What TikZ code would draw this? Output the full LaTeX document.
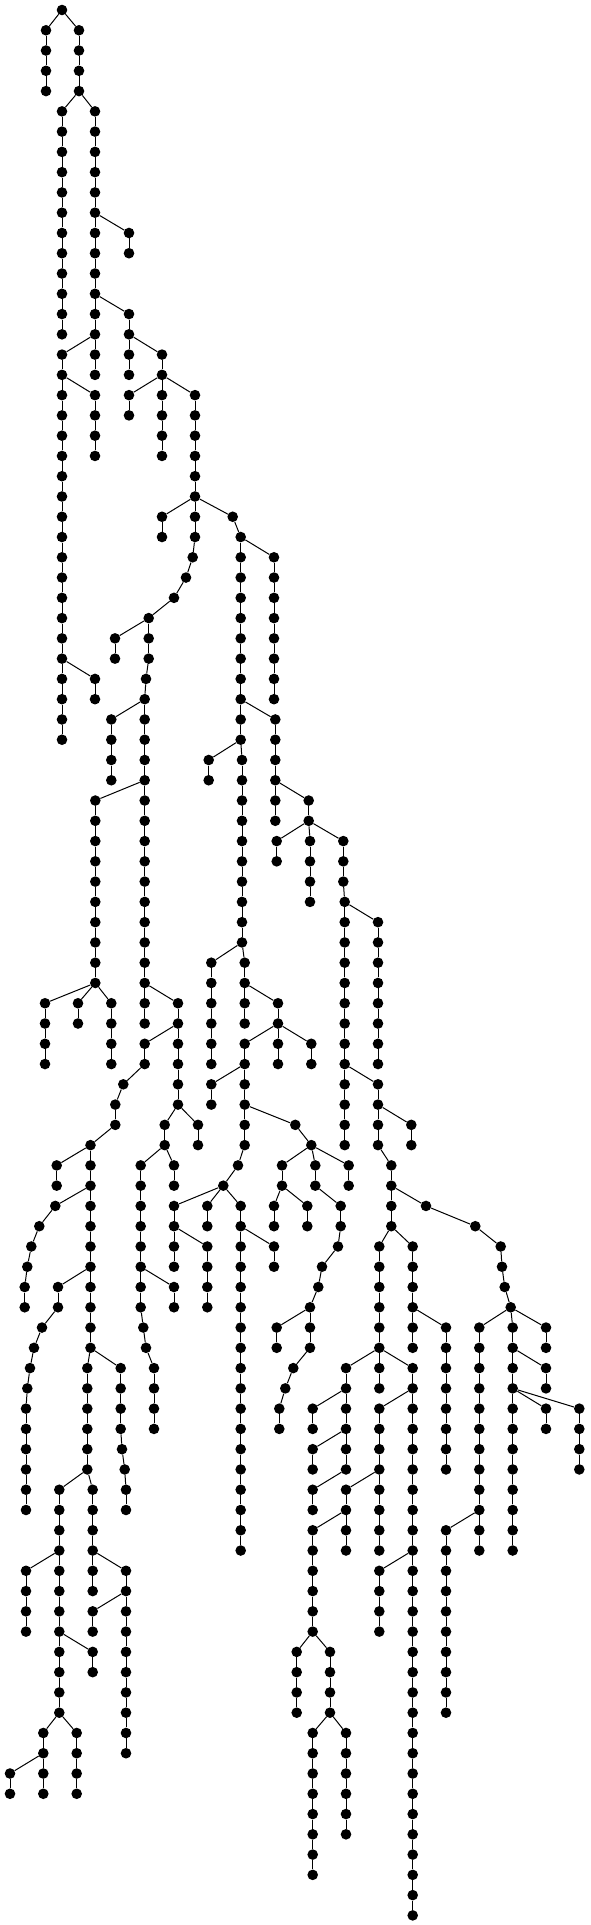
\documentclass[tikz,border=0pt]{standalone}
\usepackage{tikz}
\tikzset{
  dot/.style={circle,fill=black,draw=none,inner sep=0pt,minimum size=10.6pt},
  edge/.style={draw=black,line width=1pt}
}
\newcommand\vch[4]{%
  \foreach \l in {#3,...,#4}{\node[dot] (#1-\l) at (#2,\l) {};}%
  \pgfmathtruncatemacro\vchs{#3+1}%
  \ifnum\vchs>#4\relax\else
    \foreach \l in {\vchs,...,#4}{\pgfmathtruncatemacro\vchp{\l-1}\draw[edge] (#1-\vchp) -- (#1-\l);}%
  \fi}
\newcommand\nd[3]{\node[dot] (#1) at (#2,#3) {};}
\newcommand\ed[2]{\draw[edge] (#1) -- (#2);}
\begin{document}
\begin{tikzpicture}[x=1pt,y=-20.27pt]
\useasboundingbox[fill=white] (0,-0.4933) rectangle (590,94.4746);
% top
\nd{R}{62}{0}
\vch{a}{46}{1}{4} \ed{R}{a-1}
\vch{b}{79}{1}{4} \ed{R}{b-1}
\vch{c}{62}{5}{16} \ed{b-4}{c-5}
\vch{d}{95}{5}{18} \ed{b-4}{d-5}
\vch{e}{129}{11}{12} \ed{d-10}{e-11}
\vch{f}{129}{15}{18} \ed{d-14}{f-15}
\vch{g}{62}{17}{36} \ed{d-16}{g-17}
\vch{h}{95}{19}{22} \ed{g-18}{h-19}
\vch{i}{95}{33}{34} \ed{g-32}{i-33}
\vch{j}{162}{17}{18} \ed{f-16}{j-17}
\vch{k}{129}{19}{20} \ed{j-18}{k-19}
\vch{l}{162}{19}{22} \ed{j-18}{l-19}
\vch{m}{195}{19}{26} \ed{j-18}{m-19}
\vch{n}{162}{25}{26} \ed{m-24}{n-25}
\nd{p27}{192.7}{27} \nd{p28}{186}{28} \nd{p29}{174}{29} \nd{p30}{148.7}{30}
\ed{m-26}{p27} \ed{p27}{p28} \ed{p28}{p29} \ed{p29}{p30}
\vch{q}{115}{31}{32} \ed{p30}{q-31}
\vch{r}{148.7}{31}{32} \ed{p30}{r-31}
\nd{r33}{146}{33} \ed{r-32}{r33}
\vch{s}{144.7}{34}{50} \ed{r33}{s-34}
\vch{t}{111.3}{35}{38} \ed{s-34}{t-35}
\vch{u}{95.3}{39}{48} \ed{s-38}{u-39}
\vch{va}{45}{49}{52} \ed{u-48}{va-49}
\vch{vb}{78}{49}{50} \ed{u-48}{vb-49}
\vch{vc}{111.3}{49}{52} \ed{u-48}{vc-49}
\vch{w}{178}{49}{54} \ed{s-48}{w-49}
\vch{xa}{144.7}{51}{52} \ed{w-50}{xa-51}
\nd{y53}{123.3}{53} \ed{xa-52}{y53}
\vch{y}{115.3}{54}{55} \ed{y53}{y-54}
\vch{Z}{90.5}{56}{66} \ed{y-55}{Z-56}
\vch{Aa}{56.7}{57}{58} \ed{Z-56}{Aa-57}
\nd{B59}{55.3}{59} \nd{B60}{39.3}{60} \nd{B61}{31.3}{61} \nd{B62}{27.3}{62}
\ed{Z-58}{B59} \ed{B59}{B60} \ed{B60}{B61} \ed{B61}{B62}
\vch{B}{24.7}{63}{64} \ed{B62}{B-63}
\vch{C}{58}{63}{64} \ed{Z-62}{C-63}
\nd{C65}{42}{65} \nd{C66}{34}{66} \nd{C67}{30}{67} \nd{C68}{27.3}{68}
\ed{C-64}{C65} \ed{C65}{C66} \ed{C66}{C67} \ed{C67}{C68}
\vch{Cc}{26}{69}{74} \ed{C68}{Cc-69}
\vch{D}{87.3}{67}{72} \ed{Z-66}{D-67}
\vch{E}{59.3}{73}{84} \ed{D-72}{E-73}
\vch{F}{26}{77}{80} \ed{E-76}{F-77}
\vch{G}{92.7}{81}{82} \ed{E-80}{G-81}
\vch{H}{43.3}{85}{88} \ed{E-84}{H-85}
\vch{I}{10}{87}{88} \ed{H-86}{I-87}
\vch{J}{76.7}{85}{88} \ed{E-84}{J-85}
\vch{K}{92.7}{73}{78} \ed{D-72}{K-73}
\vch{L}{126}{77}{86} \ed{K-76}{L-77}
\vch{M}{92.7}{79}{80} \ed{L-78}{M-79}
\vch{N}{120.7}{67}{70} \ed{Z-66}{N-67}
\nd{N71}{122}{71} \nd{N72}{124.7}{72} \ed{N-70}{N71} \ed{N71}{N72}
\vch{Nb}{126}{73}{74} \ed{N72}{Nb-73}
\vch{Q}{164.7}{55}{56} \ed{w-54}{Q-55}
\vch{Qb}{198}{55}{56} \ed{w-54}{Qb-55}
\vch{O}{140.7}{57}{64} \ed{Q-56}{O-57}
\nd{O65}{143.3}{65} \nd{O66}{146}{66} \ed{O-64}{O65} \ed{O65}{O66}
\vch{Ob}{154}{67}{70} \ed{O66}{Ob-67}
\vch{P}{174}{63}{64} \ed{O-62}{P-63}
\vch{Ra}{174}{57}{58} \ed{Q-56}{Ra-57}
% right part
\nd{S25}{232.7}{25} \ed{m-24}{S25}
\vch{T}{240.7}{26}{36} \ed{S25}{T-26}
\vch{U}{274}{27}{34} \ed{T-26}{U-27}
\vch{V}{275.3}{35}{40} \ed{T-34}{V-35}
\vch{Wa}{208.7}{37}{38} \ed{T-36}{Wa-37}
\vch{W}{242}{37}{46} \ed{T-36}{W-37}
\vch{X}{244.7}{47}{50} \ed{W-46}{X-47}
\vch{Y}{211.3}{47}{52} \ed{W-46}{Y-47}
\vch{AA}{278}{49}{52} \ed{X-48}{AA-49}
\vch{AB}{244.7}{51}{56} \ed{AA-50}{AB-51}
\vch{AC}{311.3}{51}{52} \ed{AA-50}{AC-51}
\vch{AD}{211.3}{53}{54} \ed{AB-52}{AD-53}
\nd{AE57}{238}{57} \nd{AE58}{223.3}{58} \ed{AB-56}{AE57} \ed{AE57}{AE58}
\vch{AF}{174}{59}{62} \ed{AE58}{AF-59}
\vch{AG}{207.3}{59}{60} \ed{AE58}{AG-59}
\vch{AH}{207.3}{61}{64} \ed{AF-60}{AH-61}
\vch{AI}{240.7}{59}{76} \ed{AE58}{AI-59}
\nd{AL55}{295.3}{55} \nd{AL56}{311.3}{56} \ed{AB-54}{AL55} \ed{AL55}{AL56}
\vch{AM}{282}{57}{58} \ed{AL56}{AM-57}
\vch{AJ}{274}{59}{60} \ed{AM-58}{AJ-59}
\vch{AK}{274}{61}{62} \ed{AI-60}{AK-61}
\vch{AN}{307.3}{59}{60} \ed{AM-58}{AN-59}
\vch{AO}{315.3}{57}{58} \ed{AL56}{AO-57}
\vch{AP}{340.7}{59}{60} \ed{AO-58}{AP-59}
\nd{AP61}{338}{61} \nd{AP62}{322}{62} \nd{AP63}{318.3}{63}
\ed{AP-60}{AP61} \ed{AP61}{AP62} \ed{AP62}{AP63}
\vch{AQ}{310}{64}{66} \ed{AP63}{AQ-64}
\vch{AR}{276.7}{65}{66} \ed{AQ-64}{AR-65}
\nd{AS67}{293.3}{67} \nd{AS68}{285.3}{68} \ed{AQ-66}{AS67} \ed{AS67}{AS68}
\vch{AS}{279.3}{69}{70} \ed{AS68}{AS-69}
\vch{AT}{348.7}{57}{58} \ed{AL56}{AT-57}
\vch{BA}{308.7}{39}{40} \ed{V-38}{BA-39}
\vch{BB}{276.7}{41}{42} \ed{BA-40}{BB-41}
\vch{BC}{310}{41}{44} \ed{BA-40}{BC-41}
\vch{BD}{343.3}{41}{43} \ed{BA-40}{BD-41}
\vch{BE}{344.7}{44}{56} \ed{BD-43}{BE-44}
\vch{BF}{378}{45}{52} \ed{BE-44}{BF-45}
\vch{BG}{378}{53}{56} \ed{BE-52}{BG-53}
\vch{BH}{411.3}{55}{56} \ed{BG-54}{BH-55}
\vch{BI}{391.3}{57}{60} \ed{BG-56}{BI-57}
\nd{BJ59}{426}{59} \nd{BJ60}{475.3}{60} \nd{BJ61}{500.7}{61}
\nd{BJ62}{502}{62} \nd{BJ63}{504.7}{63} \nd{BJ64}{510.7}{64}
\ed{BI-58}{BJ59} \ed{BJ59}{BJ60} \ed{BJ60}{BJ61} \ed{BJ61}{BJ62} \ed{BJ62}{BJ63} \ed{BJ63}{BJ64}
\vch{BK}{379.3}{61}{68} \ed{BI-60}{BK-61}
\vch{BL}{412.7}{61}{66} \ed{BI-60}{BL-61}
\vch{BM}{446}{65}{72} \ed{BL-64}{BM-65}
\vch{BN}{346}{67}{72} \ed{BK-66}{BN-67}
\vch{BO}{312.7}{69}{70} \ed{BN-68}{BO-69}
\vch{BP}{312.7}{71}{72} \ed{BN-70}{BP-71}
\vch{BQ}{312.7}{73}{74} \ed{BN-72}{BQ-73}
\vch{BR}{412.7}{67}{94} \ed{BK-66}{BR-67}
\vch{BS}{379.3}{69}{76} \ed{BR-68}{BS-69}
\vch{BT}{346}{73}{76} \ed{BS-72}{BT-73}
\vch{BU}{312.7}{75}{80} \ed{BT-74}{BU-75}
\vch{BV}{296.7}{81}{84} \ed{BU-80}{BV-81}
\vch{BW}{330}{81}{84} \ed{BU-80}{BW-81}
\vch{BX}{312.7}{85}{92} \ed{BW-84}{BX-85}
\vch{BY}{346}{85}{90} \ed{BW-84}{BY-85}
\vch{BZ}{379.3}{77}{80} \ed{BR-76}{BZ-77}
\vch{CA}{479.3}{65}{76} \ed{BJ64}{CA-65}
\vch{CB}{446}{75}{84} \ed{CA-74}{CB-75}
\vch{CC}{546}{65}{66} \ed{BJ64}{CC-65}
\vch{CD}{512.7}{65}{76} \ed{BJ64}{CD-65}
\vch{CE}{546}{67}{68} \ed{CD-66}{CE-67}
\vch{CF}{546}{69}{70} \ed{CD-68}{CF-69}
\vch{CG}{579.3}{69}{72} \ed{CD-68}{CG-69}
\end{tikzpicture}
\end{document}
